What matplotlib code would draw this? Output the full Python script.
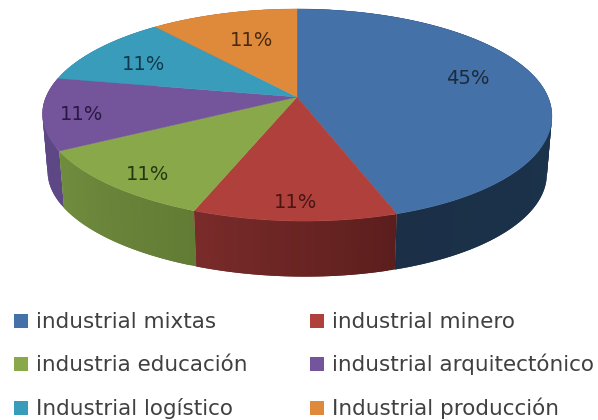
import numpy as np
import matplotlib
matplotlib.use('Agg')
import matplotlib.pyplot as plt
from matplotlib.colors import to_rgb
from matplotlib.patches import Polygon, Rectangle

categories = ['industrial mixtas', 'industrial minero', 'industria educación',
              'industrial arquitectónico', 'Industrial logístico', 'Industrial producción']
values = [45, 11, 11, 11, 11, 11]

top_colors = ['#4471a8', '#af403c', '#89a84a', '#74549a', '#3a9cbb', '#df893b']
side_left = ['#1b3047', '#7a2c2a', '#708d3e', '#5d4785', '#2c7c96', '#b06a2a']
side_right = ['#1c3654', '#5c1e1d', '#637c35', '#5d4785', '#2c7c96', '#b06a2a']
text_colors = ['#1d2a3a', '#4a1512', '#24380f', '#2a1845', '#103a4c', '#4a2a10']
label_pos = [(468, 78), (296, 203), (148, 175), (82, 114), (144, 64), (252, 40)]
legend_pos = [(14, 321), (310, 321), (14, 364), (310, 364), (14, 408), (310, 408)]

# pie plane seen in perspective
CX, CY = 297, 97
RX, RY = 251, 103
K = 0.17
DEPTH = 58
BASE_SCALE = 0.98
LEAN = 8  # front of the disc sits a little right of the centre


def project(theta, scale=1.0, drop=0):
    x = np.sin(theta)
    y = np.cos(theta)
    den = 1 + K * y
    lean = LEAN * np.minimum(y, 0) ** 2
    return CX + lean + scale * RX * x / den, CY + drop - scale * RY * y / den


fig = plt.figure(figsize=(5.98, 4.2), dpi=100)
ax = fig.add_axes([0, 0, 1, 1])
ax.set_xlim(0, 598)
ax.set_ylim(420, 0)
ax.axis('off')

edges = np.cumsum([0] + values) / sum(values) * 2 * np.pi
mids = (edges[:-1] + edges[1:]) / 2

# outer wall first, the nearest slices last
for i in sorted(range(len(values)), key=lambda i: -np.cos(mids[i])):
    n = max(int((edges[i + 1] - edges[i]) * 40), 2)
    angles = np.linspace(edges[i], edges[i + 1], n + 1)
    c0 = np.array(to_rgb(side_right[i]))
    c1 = np.array(to_rgb(side_left[i]))
    for j in range(n):
        # each strip runs under the next one so no seams show
        a = angles[j:j + 3]
        tx, ty = project(a)
        bx, by = project(a, BASE_SCALE, DEPTH)
        pts = np.column_stack([np.r_[tx, bx[::-1]], np.r_[ty, by[::-1]]])
        col = c0 + (c1 - c0) * j / n
        ax.add_patch(Polygon(pts, closed=True, fc=col, ec='none'))

# top face
for i in range(len(values)):
    angles = np.linspace(edges[i], edges[i + 1], 120)
    x, y = project(angles)
    pts = np.column_stack([np.r_[CX, x], np.r_[CY, y]])
    ax.add_patch(Polygon(pts, closed=True, fc=top_colors[i], ec=top_colors[i], lw=0.3))

for i, v in enumerate(values):
    ax.text(label_pos[i][0], label_pos[i][1], f'{v}%', ha='center', va='center',
            fontsize=14, color=text_colors[i], family='DejaVu Sans')

for i, name in enumerate(categories):
    lx, ly = legend_pos[i]
    ax.add_patch(Rectangle((lx, ly - 7), 14, 14, fc=top_colors[i], ec='none'))
    ax.text(lx + 22, ly + 7, name, ha='left', va='baseline', fontsize=15.5,
            color='#404040', family='DejaVu Sans')

fig.savefig('out.png', dpi=100, facecolor='white')
